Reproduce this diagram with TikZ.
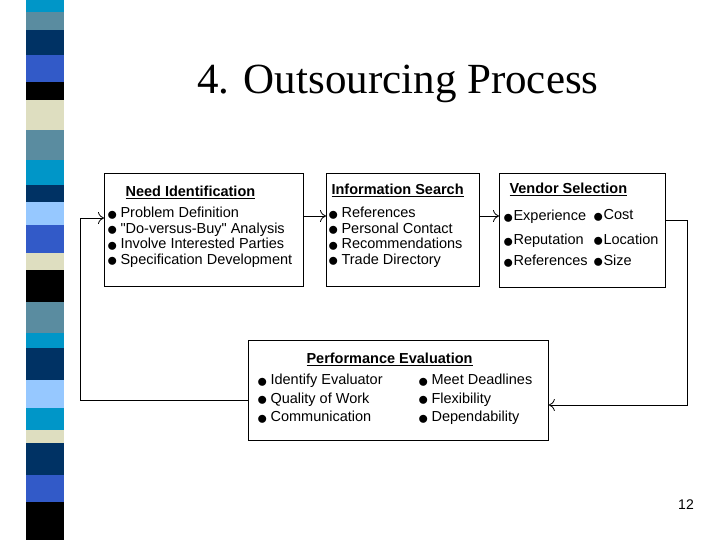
\documentclass[tikz,border=0pt]{standalone}
\usepackage{fontspec}
\setmainfont{Liberation Serif}
\newfontfamily\arial{Liberation Sans}
\usetikzlibrary{arrows.meta}
\definecolor{cy}{RGB}{0,150,200}
\definecolor{st}{RGB}{90,140,160}
\definecolor{nv}{RGB}{0,50,100}
\definecolor{rb}{RGB}{50,90,200}
\definecolor{be}{RGB}{222,222,192}
\definecolor{lb}{RGB}{150,200,255}
\begin{document}
\begin{tikzpicture}[x=1pt,y=-1pt,
  boxx/.style={draw,line width=0.8pt},
  head/.style={font=\arial\bfseries\fontsize{14.5}{16}\selectfont,anchor=west},
  item/.style={font=\arial\fontsize{14.5}{15.5}\selectfont,anchor=west,align=left,inner sep=0pt},
  conn/.style={line width=0.8pt,-{To[length=6pt,width=12pt]}}]
\useasboundingbox (0,0) rectangle (720,540);
\fill[white] (0,0) rectangle (720,540);
\foreach \a/\b/\c in {0/12/cy,12/30/st,30/55/nv,55/82/rb,82/100/black,100/130/be,130/160/st,160/185/cy,185/202/nv,202/225/lb,225/253/rb,253/270/be,270/302/black,302/333/st,333/348/cy,348/380/nv,380/408/lb,408/430/cy,430/443/be,443/475/nv,475/502/rb,502/540/black}
  \fill[\c] (26,\a) rectangle (64,\b);
\node[font=\fontsize{43}{46}\selectfont] (title) at (398,84) {4. Outsourcing Process};
\node[font=\arial\fontsize{14}{15}\selectfont] (pg) at (686,505) {12};
\node[boxx,minimum width=199,minimum height=113,anchor=north west] (need) at (104,173) {};
\node[boxx,minimum width=153,minimum height=113,anchor=north west] (info) at (326,173) {};
\node[boxx,minimum width=166,minimum height=114,anchor=north west] (vend) at (499,173) {};
\node[boxx,minimum width=300,minimum height=100,anchor=north west] (perf) at (248,340) {};
\node[head] (h1) at (122,192) {\underline{Need Identification}};
\node[head] (h2) at (328,190) {\underline{Information Search}};
\node[head] (h3) at (506,189) {\underline{Vendor Selection}};
\node[head] (h4) at (303,359) {\underline{Performance Evaluation}};
\def\bb{\raisebox{-2.5pt}{\huge$\bullet$}}
\def\b{\bb\hspace{3pt}}
\node[item,anchor=north west] (l1) at (107,207) {\b Problem Definition\\\b "Do-versus-Buy" Analysis\\\b Involve Interested Parties\\\b Specification Development};
\node[item,anchor=north west] (l2) at (328,207) {\b References\\\b Personal Contact\\\b Recommendations\\\b Trade Directory};
\node[item] (v1) at (503,217) {\bb Experience};
\node[item] (v2) at (503,241) {\bb Reputation};
\node[item] (v3) at (503,262) {\bb References};
\node[item] (v4) at (593,216) {\bb Cost};
\node[item] (v5) at (593,240) {\bb Location};
\node[item] (v6) at (593,261) {\bb Size};
\node[item,anchor=north west,font=\arial\fontsize{14.5}{18.5}\selectfont] (p1) at (257,374) {\b Identify Evaluator\\\b Quality of Work\\\b Communication};
\node[item,anchor=north west,font=\arial\fontsize{14.5}{18.5}\selectfont] (p2) at (418,374) {\b Meet Deadlines\\\b Flexibility\\\b Dependability};
\draw[conn] (need.east |- 0,216) -- (info.west |- 0,216);
\draw[conn] (info.east |- 0,216) -- (vend.west |- 0,216);
\coordinate (c1) at (687,220);
\coordinate (c2) at (687,405);
\coordinate (c3) at (80,400);
\coordinate (c4) at (80,218);
\draw[conn] (vend.east |- c1) -- (c1) -- (c2) -- (perf.east |- c2);
\draw[conn] (perf.west |- c3) -- (c3) -- (c4) -- (need.west |- c4);
\end{tikzpicture}
\end{document}
